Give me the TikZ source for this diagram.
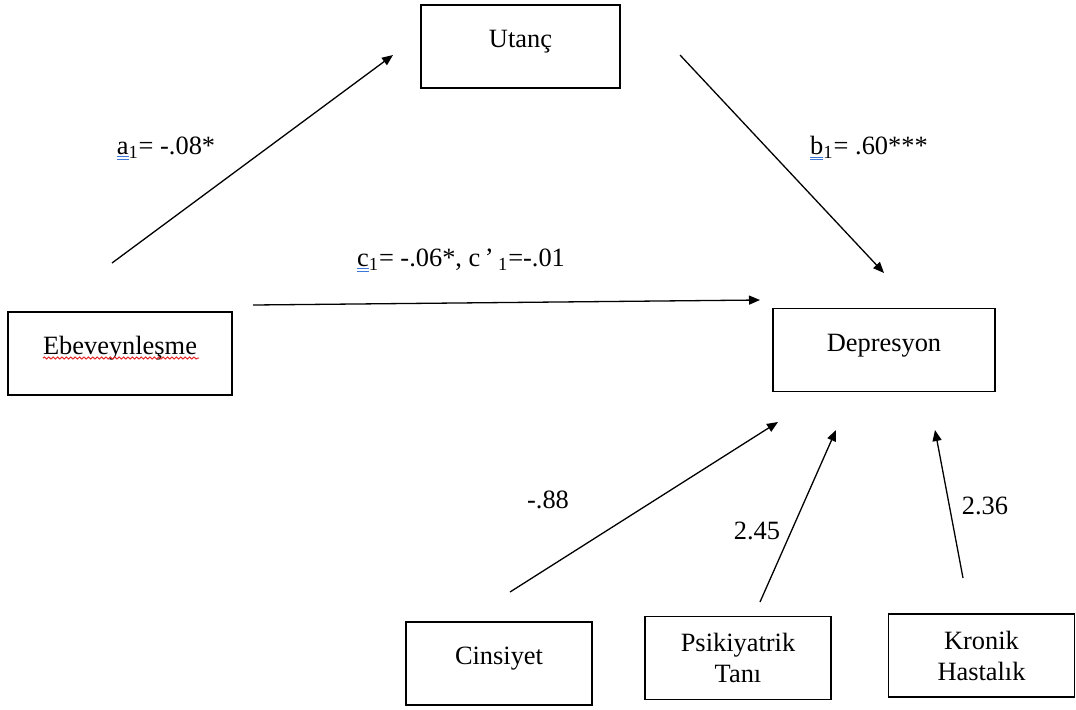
\documentclass[tikz,border=0pt]{standalone}
\usepackage{fontspec}
\setmainfont{Liberation Serif}
\usetikzlibrary{arrows.meta,decorations.pathmorphing}
\definecolor{ulblue}{RGB}{60,120,216}
\definecolor{ulred}{RGB}{230,40,40}
\newcommand{\gramul}[1]{\leavevmode\setbox0\hbox{#1}\rlap{\color{ulblue}\rule[-1.6pt]{\wd0}{0.45pt}}\rlap{\color{ulblue}\rule[-2.7pt]{\wd0}{0.45pt}}\box0}

\begin{document}
\begin{tikzpicture}[x=0.5pt, y=-0.5pt,
  font=\fontsize{13.2}{15.5}\selectfont,
  box/.style={draw, line width=0.9pt, minimum width=93pt, minimum height=41.5pt, inner sep=0pt, align=center},
  oneline/.style={text height=9pt, text depth=8pt},
  link/.style={-{Triangle[length=5.5pt,width=4.5pt]}, line width=0.65pt}]
\useasboundingbox (0,0) rectangle (1076,709);

\node [box, oneline, minimum width=99.5pt] (utanc) at (520.5,46.5) {Utanç};
\node [box, oneline, minimum width=112pt] (ebev) at (120,353.5) {Ebeveynleşme};
\node [box, oneline, minimum width=111pt] (dep) at (884,350) {Depresyon};
\node [box, oneline] (cins) at (499,663.5) {Cinsiyet};
\node [box] (psik) at (738,658) {Psikiyatrik\\Tanı};
\node [box] (kron) at (981.5,655.5) {Kronik\\Hastalık};

\draw[ulred, line width=0.5pt, decorate, decoration={snake, amplitude=0.5pt, segment length=2.2pt}] (43,358) -- (199,358);

\coordinate (a1s) at (112,263);
\coordinate (a1e) at (393,55);
\coordinate (b1s) at (680,55);
\coordinate (b1e) at (884,273);
\coordinate (c1s) at (253,305);
\coordinate (c1e) at (760,300);
\coordinate (cinss) at (510,592);
\coordinate (cinse) at (778,422);
\coordinate (psiks) at (760,602);
\coordinate (psike) at (836,430);
\coordinate (krons) at (963,578);
\coordinate (krone) at (935,430);

\draw[link] (a1s) -- (a1e);
\draw[link] (b1s) -- (b1e);
\draw[link] (c1s) -- (c1e);
\draw[link] (cinss) -- (cinse);
\draw[link] (psiks) -- (psike);
\draw[link] (krons) -- (krone);

\node (a1lab) at (166,148) {\gramul{a}\textsubscript{1}= -.08*};
\node (b1lab) at (869,148) {\gramul{b}\textsubscript{1}= .60***};
\node (c1lab) at (461,260) {\gramul{c}\textsubscript{1}= -.06*, c\,’\,\textsubscript{1}=-.01};
\node (cinslab) at (548,500) {-.88};
\node (psiklab) at (757,531) {2.45};
\node (kronlab) at (985,506) {2.36};
\end{tikzpicture}
\end{document}
